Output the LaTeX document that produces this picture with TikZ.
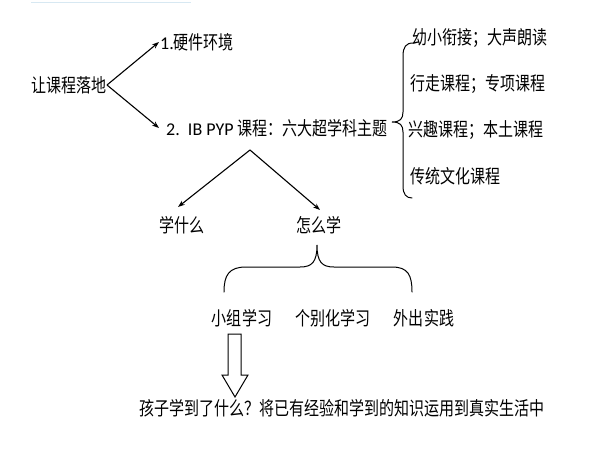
\documentclass[tikz,border=0pt]{standalone}
\usepackage{fontspec}
\setmainfont{Carlito}
\newfontfamily\cjk[FakeStretch=0.79]{Noto Sans CJK SC}
\usetikzlibrary{arrows.meta}
\tikzset{
  lbl/.style={inner sep=0pt, font=\cjk\fontsize{19}{21}\selectfont},
  conn/.style={line width=1.1pt, -{Stealth[length=7pt,width=5pt]}},
  brace/.style={line width=1pt, line cap=round}
}
\newcommand{\lat}[1]{{\normalfont\fontsize{18}{21}\selectfont #1}}
\begin{document}
\begin{tikzpicture}[x=1pt,y=-1pt]
\useasboundingbox (0,0) rectangle (600,450);
\fill[white] (0,0) rectangle (600,450);
% faint line at top
\draw[color={rgb,255:red,215;green,232;blue,242}, line width=0.8pt] (31,2) -- (191,2);

\node[lbl] (n0) at (69,85) {让课程落地};
\node[lbl, anchor=west] (n1) at (160,42) {\lat{1.}硬件环境};
\node[lbl, anchor=west] (n2) at (166,128) {\lat{2.\ \ IB PYP }课程：六大超学科主题};

\node[lbl, anchor=west] (r1) at (412,38) {幼小衔接；大声朗读};
\node[lbl, anchor=west] (r2) at (410,84) {行走课程；专项课程};
\node[lbl, anchor=west] (r3) at (408,130) {兴趣课程；本土课程};
\node[lbl, anchor=west] (r4) at (410,176) {传统文化课程};

\node[lbl] (w1) at (182,225) {学什么};
\node[lbl] (w2) at (319,225) {怎么学};

\node[lbl] (h1) at (242,318) {小组学习};
\node[lbl] (h2) at (333,318) {个别化学习};
\node[lbl] (h3) at (424,318) {外出实践};

\node[lbl] (b) at (342,408) {孩子学到了什么？将已有经验和学到的知识运用到真实生活中};

% connectors
\coordinate (s0) at (107,85);
\coordinate (e1) at (159,42);
\coordinate (e2) at (159,128);
\draw[conn] (s0) -- (e1);
\draw[conn] (s0) -- (e2);

\coordinate (apex) at (250,150);
\coordinate (t1) at (178,207);
\coordinate (t2) at (320,210);
\draw[conn] (apex) -- (t1);
\draw[conn] (apex) -- (t2);

% right brace (left curly)
\draw[brace] (413,43) .. controls (406,43) and (403,47) .. (403,56) -- (403,112)
  .. controls (403,119) and (400,122) .. (392,122)
  .. controls (400,122) and (403,125) .. (403,132) -- (403,186)
  .. controls (403,194) and (406,198) .. (412,198);

% under-brace below 怎么学
\draw[brace] (224,292) .. controls (224,275) and (229,267) .. (246,267) -- (300,267)
  .. controls (312,267) and (317,262) .. (317,245)
  .. controls (317,262) and (322,267) .. (334,267) -- (392,267)
  .. controls (408,267) and (412,275) .. (412,292);

% hollow arrow
\draw[line width=1pt, fill=white] (228,334) -- (241,334) -- (241,375) -- (248,375)
  -- (235,397) -- (222,375) -- (228,375) -- cycle;
\end{tikzpicture}
\end{document}
